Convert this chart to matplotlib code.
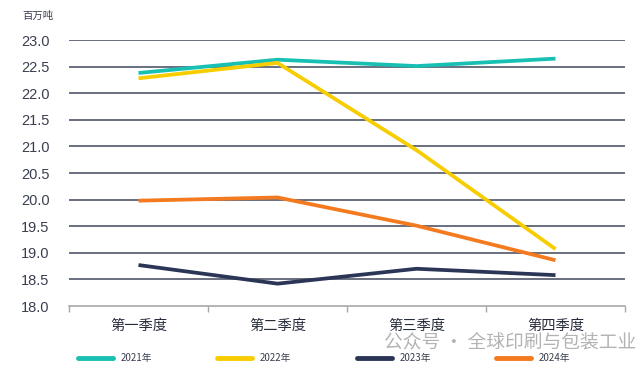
import matplotlib
matplotlib.use("Agg")
import matplotlib.pyplot as plt
from matplotlib.lines import Line2D

categories = ["第一季度", "第二季度", "第三季度", "第四季度"]
series_names = ["2021年", "2022年", "2023年", "2024年"]
v2021 = [22.38, 22.63, 22.51, 22.65]
v2022 = [22.28, 22.57, 20.93, 19.07]
v2023 = [18.77, 18.42, 18.70, 18.58]
v2024 = [19.98, 20.04, 19.51, 18.86]
yticks = [18.0, 18.5, 19.0, 19.5, 20.0, 20.5, 21.0, 21.5, 22.0, 22.5, 23.0]
unit_label = "百万吨"
watermark = "公众号 · 全球印刷与包装工业"

colors = ["#17c0b3", "#f7cd00", "#2b3657", "#f47a20"]
cjk = ["Noto Sans CJK SC", "DejaVu Sans"]
num_font = ["Liberation Sans", "DejaVu Sans"]

fig = plt.figure(figsize=(6.39, 3.74), dpi=100)
ax = fig.add_axes([69/639, 1-306/374, (625-69)/639, (306-40)/374])

x = list(range(len(categories)))
handles = []
for vals, c, name in zip([v2021, v2022, v2023, v2024], colors, series_names):
    ax.plot(x, vals, color=c, lw=2.7, solid_capstyle="butt", zorder=3)
    handles.append(Line2D([0], [0], color=c, lw=3.5, solid_capstyle="round"))

ax.set_ylim(18.0, 23.0)
ax.set_xlim(-0.5, len(categories) - 0.5)
ax.set_yticks(yticks)
ax.set_yticklabels([f"{t:.1f}" for t in yticks], fontfamily=num_font, fontsize=10.5, color="#3a3f4f")
ax.tick_params(axis="y", length=0, pad=14)
for t in yticks[1:]:
    ax.axhline(t, color="#505669", lw=1.2, zorder=1)

ax.set_xticks([i - 0.5 for i in range(len(categories) + 1)])
ax.set_xticklabels([])
ax.tick_params(axis="x", which="major", length=4, width=1, color="#a8a8a8", direction="out")
ax.set_xticks(x, minor=True)
ax.set_xticklabels(categories, minor=True, fontfamily=cjk, fontsize=10.3, color="#262b3a")
ax.tick_params(axis="x", which="minor", length=0, pad=9)

for s in ["top", "right", "left"]:
    ax.spines[s].set_visible(False)
ax.spines["bottom"].set_color("#a8a8a8")
ax.spines["bottom"].set_linewidth(1.2)

fig.text(22/639, 1-16/374, unit_label, fontfamily=cjk, fontsize=7.5, color="#3a3f4f", va="center", ha="left")

leg = fig.legend(handles, series_names, loc="center", bbox_to_anchor=(324/639, 1-358/374), ncol=4,
                 frameon=False, handlelength=3.6, handletextpad=0.8, columnspacing=6.7,
                 prop={"family": cjk, "size": 7})
for t in leg.get_texts():
    t.set_color("#3a3f4f")

fig.text(636/639, 1-342/374, watermark, fontfamily=cjk, fontsize=13.5, color="#9a9a9a", alpha=0.75,
         ha="right", va="center", zorder=10)

fig.savefig("out.png", dpi=100)
